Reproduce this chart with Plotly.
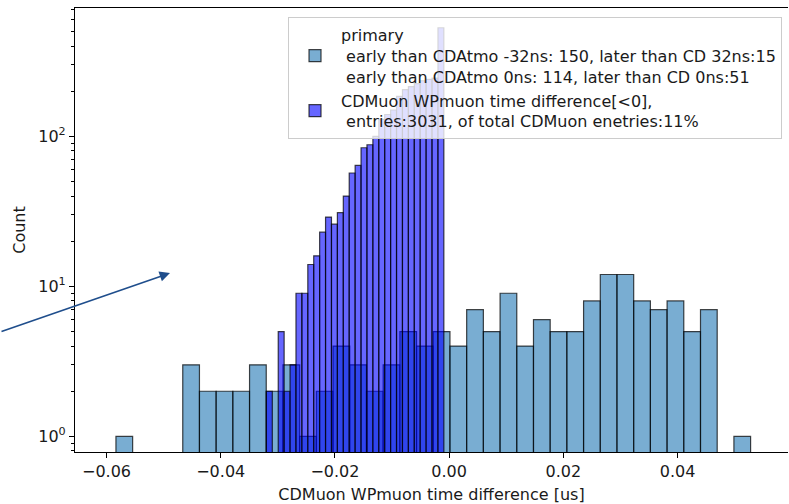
import numpy as np
import plotly.graph_objects as go

# ---------------- data ----------------
primary_counts = [1, 0, 0, 0, 3, 2, 2, 2, 3, 2, 3, 1, 2, 4, 3, 2, 3, 5, 4, 5,
                  4, 7, 5, 9, 4, 6, 5, 5, 8, 12, 12, 8, 7, 8, 5, 7, 0, 1]
primary_bin_start = -0.05835
primary_bin_width = 0.002925

muon_counts = [2, 0, 5, 2, 3, 9, 9, 14, 16, 23, 29, 26, 31, 40, 57, 64, 84, 88, 100,
               130, 140, 150, 185, 205, 215, 225, 235, 240, 245, 530]
muon_bin_start = -0.03200
muon_bin_width = 0.001036

primary_label = ("primary<br>\u00a0early than CDAtmo -32ns: 150, later than CD 32ns:15"
                 "<br>\u00a0early than CDAtmo 0ns: 114, later than CD 0ns:51")
muon_label = ("CDMuon WPmuon time difference[<0],<br>"
              "\u00a0entries:3031, of total CDMuon enetries:11%")

x_tick_vals = [-0.06, -0.04, -0.02, 0.00, 0.02, 0.04]
x_tick_labels = ["\u22120.06", "\u22120.04", "\u22120.02", "0.00", "0.02", "0.04"]
y_tick_vals = [1, 10, 100]
y_tick_labels = ["10<sup>0</sup>", "10<sup>1</sup>", "10<sup>2</sup>"]
x_title = "CDMuon WPmuon time difference [us]"
y_title = "Count"


def centers(start, width, n):
    return [start + (i + 0.5) * width for i in range(n)]


def nz(vals):
    return [v if v > 0 else None for v in vals]


FONT = "DejaVu Sans"
FS = 16
TXT = "#1a1a1a"

fig = go.Figure()
fig.add_trace(go.Bar(
    x=centers(primary_bin_start, primary_bin_width, len(primary_counts)),
    y=nz(primary_counts),
    width=primary_bin_width,
    name=primary_label,
    marker=dict(color="rgba(31,119,180,0.6)",
                line=dict(color="rgba(0,0,0,0.72)", width=1.2)),
))
fig.add_trace(go.Bar(
    x=centers(muon_bin_start, muon_bin_width, len(muon_counts)),
    y=nz(muon_counts),
    width=muon_bin_width,
    name=muon_label,
    marker=dict(color="rgba(0,0,255,0.6)",
                line=dict(color="rgba(0,0,0,0.72)", width=1.2)),
))

minor_vals = [m * 10.0 ** k for k in range(-1, 3) for m in range(2, 10)] + [0.8, 0.9]

fig.update_layout(
    width=789, height=504,
    margin=dict(l=75, r=1, t=8, b=52, autoexpand=False),
    paper_bgcolor="white", plot_bgcolor="white",
    barmode="overlay",
    font=dict(family=FONT, size=FS, color=TXT),
    showlegend=True,
    legend=dict(
        x=0.9916, y=0.9797, xanchor="right", yanchor="top",
        bgcolor="rgba(255,255,255,0.8)", bordercolor="#cccccc", borderwidth=1,
        font=dict(family=FONT, size=FS, color=TXT),
        tracegroupgap=0, itemwidth=42,
    ),
    xaxis=dict(
        range=[-0.06552, 0.05935], automargin=False,
        tickmode="array", tickvals=x_tick_vals, ticktext=x_tick_labels,
        ticks="outside", ticklen=5, tickwidth=1.2, tickcolor="black",
        showline=True, linecolor="black", linewidth=1.2, mirror=True,
        showgrid=False, zeroline=False,
        title=dict(text=x_title, standoff=9, font=dict(size=FS)),
    ),
    yaxis=dict(
        type="log", range=[-0.104, 2.856], automargin=False,
        tickmode="array", tickvals=y_tick_vals, ticktext=y_tick_labels,
        ticks="outside", ticklen=5, tickwidth=1.2, tickcolor="black",
        showline=True, linecolor="black", linewidth=1.2, mirror=False,
        showgrid=False, zeroline=False,
        minor=dict(tickmode="array", tickvals=minor_vals, ticks="outside",
                   ticklen=3, tickwidth=1, tickcolor="black", showgrid=False),
        title=dict(text=y_title, standoff=8, font=dict(size=FS)),
    ),
)

# arrow annotation entering from the left edge
fig.add_annotation(
    x=(170 - 75) / 713, y=(452 - 273) / 444, xref="paper", yref="paper",
    ax=-176, ay=59, axref="pixel", ayref="pixel",
    text="", showarrow=True, arrowhead=2, arrowsize=1.3, arrowwidth=1.6,
    arrowcolor="#1f4e8c", standoff=0,
)

fig.write_html("out.html",
               config={"displayModeBar": False},
               post_script="document.body.style.margin='0px';document.body.style.padding='0px';")
